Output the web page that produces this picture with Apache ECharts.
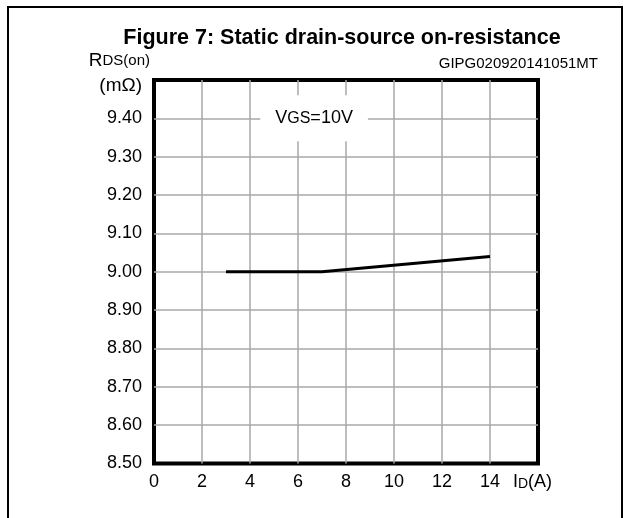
<!DOCTYPE html>
<html>
<head>
<meta charset="utf-8">
<script src="https://cdn.jsdelivr.net/npm/echarts@6/dist/echarts.min.js"></script>
<style>
  html, body { margin: 0; padding: 0; background: #fff; }
  #chart { width: 629px; height: 518px; }
</style>
</head>
<body>
<div id="chart"></div>
<script>
// drain current (A) and on-resistance (mOhm)
const idAmps = [3, 7, 14];
const rdsOn = [9.00, 9.00, 9.04];

const xTicks = [0, 2, 4, 6, 8, 10, 12, 14, 16];
const yTicks = [8.50, 8.60, 8.70, 8.80, 8.90, 9.00, 9.10, 9.20, 9.30, 9.40, 9.50];

const titleText = 'Figure 7: Static drain-source on-resistance';
const codeText = 'GIPG020920141051MT';

const font = '"Liberation Sans", Arial, sans-serif';

const chart = echarts.init(document.getElementById('chart'), null, { renderer: 'canvas' });

chart.setOption({
  animation: false,
  backgroundColor: '#fff',
  textStyle: { fontFamily: font, color: '#000' },
  title: {
    text: titleText,
    left: 337,
    top: 22,
    textAlign: 'center',
    textStyle: { fontFamily: font, fontSize: 21.5, fontWeight: 'bold', color: '#000' }
  },
  graphic: [
    {
      type: 'rect',
      shape: { x: 8, y: 7, width: 614, height: 530 },
      style: { fill: 'none', stroke: '#000', lineWidth: 2 },
      silent: true
    },
    {
      type: 'text',
      right: 31,
      top: 56,
      style: { text: codeText, font: '15px ' + font, fill: '#000' }
    }
  ],
  grid: {
    left: 154, top: 80, width: 384, height: 383.5,
    show: true, borderColor: '#000', borderWidth: 4
  },
  xAxis: {
    type: 'value',
    min: 0, max: 16, interval: 2,
    axisLine: { show: false },
    axisTick: { show: false },
    splitLine: { show: true, showMinLine: false, showMaxLine: false, lineStyle: { color: '#a8a8a8', width: 1.5 } },
    axisLabel: {
      margin: 10,
      fontSize: 18,
      color: '#000',
      fontFamily: font,
      formatter: v => v === 16 ? '{big|I}{sub|D}{end|(A)}' : String(v),
      rich: {
        big: { fontSize: 18, fontFamily: font, color: '#000' },
        sub: { fontSize: 14, fontFamily: font, color: '#000', padding: [3, 0, 0, 0] },
        end: { fontSize: 18, fontFamily: font, color: '#000', padding: [0, 11, 0, 0] }
      }
    }
  },
  yAxis: {
    type: 'value',
    min: 8.5, max: 9.5, interval: 0.1,
    name: '{big|R}{sub|DS(on)}',
    nameLocation: 'end',
    nameGap: 10,
    nameTextStyle: {
      align: 'right',
      padding: [0, 4, 0, 0],
      rich: {
        big: { fontSize: 19, fontFamily: font, color: '#000' },
        sub: { fontSize: 15, fontFamily: font, color: '#000' }
      }
    },
    axisLine: { show: false },
    axisTick: { show: false },
    splitLine: { show: true, showMinLine: false, showMaxLine: false, lineStyle: { color: '#a8a8a8', width: 1.5 } },
    axisLabel: {
      margin: 12,
      fontSize: 18,
      color: '#000',
      fontFamily: font,
      formatter: v => Math.abs(v - 9.5) < 1e-6 ? '{u|(mΩ)}' : v.toFixed(2),
      rich: {
        u: { fontSize: 19, fontFamily: font, color: '#000', padding: [12, 0, 0, 0] }
      }
    }
  },
  series: [{
    type: 'line',
    data: idAmps.map((x, i) => [x, rdsOn[i]]),
    showSymbol: false,
    lineStyle: { color: '#000', width: 3 },
    markPoint: {
      symbol: 'rect',
      symbolSize: 0,
      data: [{ coord: [6.67, 9.40] }],
      label: {
        show: true,
        position: 'inside',
        formatter: '{big|V}{sub|GS}{big|=10V}',
        backgroundColor: '#fff',
        padding: [14, 15],
        rich: {
          big: { fontSize: 18, fontFamily: font, color: '#000' },
          sub: { fontSize: 16, fontFamily: font, color: '#000' }
        }
      }
    }
  }]
});
</script>
</body>
</html>
